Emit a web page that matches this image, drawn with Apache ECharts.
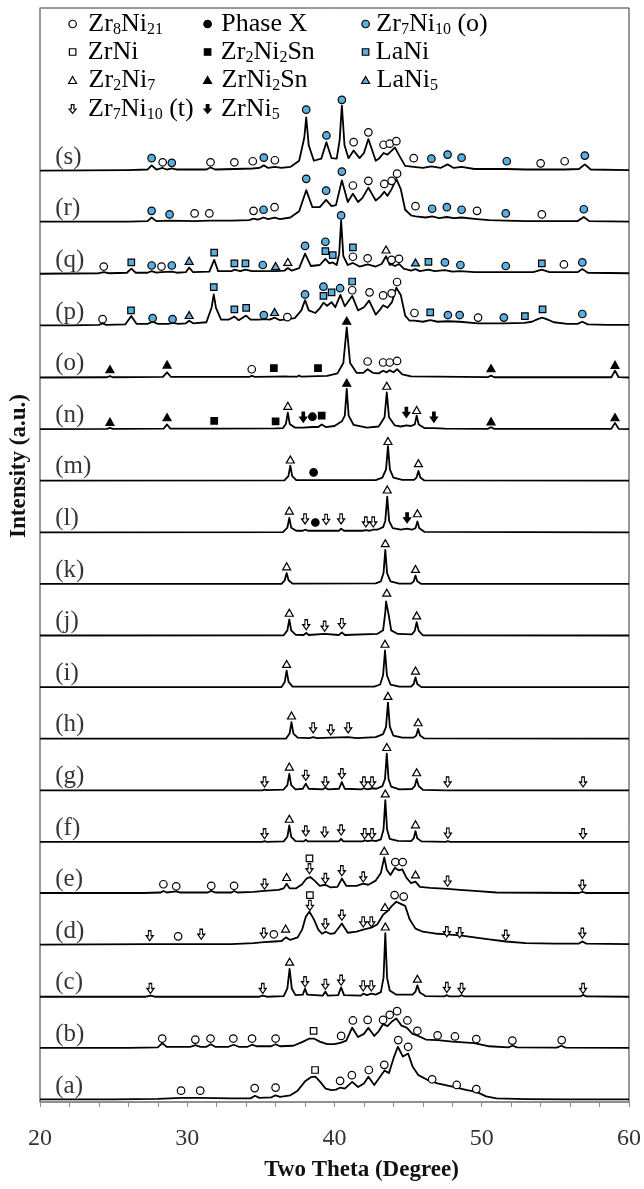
<!DOCTYPE html>
<html>
<head>
<meta charset="utf-8">
<script src="https://cdn.jsdelivr.net/npm/echarts@6/dist/echarts.min.js"></script>
<style>
html,body{margin:0;padding:0;background:#fff;}
#chart{width:644px;height:1189px;}
</style>
</head>
<body>
<div id="chart"></div>
<script>
// ---------- DATA ----------
const traceLabels = ['(a)','(b)','(c)','(d)','(e)','(f)','(g)','(h)','(i)','(j)','(k)','(l)','(m)','(n)','(o)','(p)','(q)','(r)','(s)'];
const xTicks = [20, 30, 40, 50, 60];

// each trace: [two-theta, intensity above its own baseline]
const traceA = [[20,0.1],[25,0.1],[28,0.2],[29.6,0.4],[30.9,0.4],[33,0.3],[34.3,0.3],[34.6,0.8],[34.9,0.4],[35.7,0.5],[36.0,0.9],[36.3,0.6],[37.0,0.9],[37.5,1.8],[38.0,3.6],[38.4,4.4],[38.7,4.5],[39.0,3.6],[39.4,2.2],[39.8,1.9],[40.1,2.0],[40.4,2.4],[40.7,2.2],[41.2,3.5],[41.6,2.5],[42.0,3.2],[42.3,4.5],[42.7,2.9],[43.1,4.5],[43.4,5.7],[43.7,5.2],[44.0,8.0],[44.3,10.3],[44.65,8.4],[45.0,9.0],[45.3,6.5],[45.7,4.8],[46.3,3.9],[47.0,3.2],[48.0,2.6],[49.0,1.9],[49.6,1.6],[50.3,0.7],[51.0,0.3],[53,0.15],[56,0.1],[60,0.1]];
const traceB = [[20,0.1],[26,0.1],[28.0,0.2],[28.3,1.0],[28.6,0.3],[30.2,0.3],[30.55,0.6],[30.9,0.3],[31.3,0.3],[31.6,0.8],[31.9,0.3],[32.8,0.3],[33.15,0.7],[33.5,0.3],[34.1,0.3],[34.4,0.7],[34.7,0.4],[35.7,0.4],[36.0,0.8],[36.3,0.4],[37.2,0.5],[37.8,1.2],[38.3,1.9],[38.6,1.9],[39.0,1.3],[39.5,0.8],[40.0,0.8],[40.45,1.1],[40.8,1.5],[41.2,4.0],[41.6,2.2],[42.0,2.8],[42.3,4.0],[42.7,2.4],[43.0,3.3],[43.3,4.7],[43.6,4.3],[43.9,5.2],[44.2,5.8],[44.55,4.4],[44.9,4.0],[45.3,2.8],[45.6,2.5],[46.2,1.7],[47.0,1.6],[48.0,1.3],[49.5,1.0],[50.5,0.4],[51.8,0.2],[52.1,0.5],[52.4,0.2],[55.1,0.15],[55.4,0.5],[55.7,0.15],[60,0.1]];
const traceC = [[20,0],[27.2,0],[27.5,0.2],[27.8,0],[34.9,0],[35.13,0.2],[35.4,0],[36.55,0.1],[36.8,1.6],[36.95,5.4],[37.1,1.6],[37.35,0.3],[37.85,0.4],[38.0,1.6],[38.15,0.4],[39.2,0.2],[39.38,1.0],[39.55,0.2],[40.25,0.3],[40.45,1.8],[40.65,0.3],[41.8,0.2],[41.95,0.6],[42.2,0.3],[42.5,0.6],[42.8,0.4],[43.15,0.9],[43.33,3.7],[43.45,12.3],[43.57,3.7],[43.75,1.2],[44.2,0.4],[45.3,0.4],[45.5,1.0],[45.63,2.2],[45.8,0.8],[46.2,0.1],[47.45,0.05],[47.63,0.3],[47.8,0.05],[48.45,0.05],[48.63,0.3],[48.8,0.05],[56.7,0.05],[56.88,0.35],[57.1,0.05],[60,0]];
const traceD = [[20,0.1],[27.45,0.2],[29.4,0.2],[31,0.2],[33,0.2],[34.5,0.4],[35.2,0.6],[35.9,0.7],[36.4,0.8],[36.7,1.5],[37.0,1.0],[37.5,1.5],[37.8,3.0],[38.05,5.5],[38.3,6.5],[38.6,5.0],[38.9,3.0],[39.15,2.2],[39.4,2.6],[39.7,2.2],[40.0,2.3],[40.5,4.2],[40.9,2.4],[41.5,2.6],[41.95,3.0],[42.5,3.4],[42.9,4.0],[43.3,5.9],[43.6,6.6],[43.9,7.6],[44.2,8.4],[44.5,8.0],[44.8,7.6],[45.1,5.0],[45.5,3.2],[46.0,2.6],[47.0,2.2],[47.63,2.1],[48.5,1.9],[49.5,1.5],[50.5,1.1],[51.63,0.7],[53,0.4],[55,0.3],[56.6,0.3],[56.83,0.7],[57.1,0.3],[60,0.2]];
const traceE = [[20,0.1],[27,0.1],[28.2,0.2],[28.38,0.5],[28.6,0.2],[29.25,0.4],[29.5,0.2],[31.4,0.2],[31.63,0.5],[31.9,0.2],[33.0,0.2],[33.18,0.5],[33.4,0.2],[34.5,0.3],[35.25,0.5],[36.2,0.7],[36.55,1.0],[36.75,1.9],[36.95,1.0],[37.4,1.0],[37.8,1.8],[38.1,2.9],[38.35,3.2],[38.65,2.5],[39.0,1.5],[39.38,1.7],[39.7,1.2],[40.2,1.3],[40.5,2.9],[40.8,1.5],[41.5,1.5],[41.95,1.9],[42.3,1.7],[42.8,2.5],[43.15,4.0],[43.38,7.0],[43.55,4.6],[43.8,3.6],[44.1,5.0],[44.35,4.5],[44.6,4.7],[44.9,3.0],[45.2,2.0],[45.5,2.3],[45.8,1.3],[46.5,1.1],[47.68,0.9],[48.5,0.7],[49.5,0.5],[51,0.2],[56.6,0.1],[56.83,0.3],[57.1,0.1],[60,0.1]];
const traceF = [[20,0],[35.1,0],[35.25,0.15],[35.4,0],[36.55,0.1],[36.8,1.0],[36.93,3.2],[37.06,1.0],[37.35,0.15],[37.9,0.1],[38.05,0.4],[38.2,0.1],[39.2,0.1],[39.33,0.3],[39.5,0.1],[40.3,0.1],[40.45,0.6],[40.6,0.1],[41.9,0.1],[42.05,0.3],[42.25,0.15],[42.55,0.3],[42.8,0.15],[43.15,0.5],[43.33,2.4],[43.45,8.1],[43.57,2.4],[43.75,0.6],[44.3,0.2],[45.2,0.15],[45.38,0.7],[45.5,2.1],[45.62,0.7],[45.9,0.1],[47.55,0],[47.7,0.15],[47.85,0],[56.75,0],[56.88,0.15],[57.0,0],[60,0]];
const traceG = [[20,0],[35.1,0],[35.25,0.15],[35.4,0.05],[36.55,0.15],[36.8,1.0],[36.93,3.2],[37.06,1.0],[37.35,0.2],[37.85,0.3],[38.05,1.3],[38.25,0.3],[39.2,0.2],[39.38,0.5],[39.55,0.2],[40.3,0.3],[40.5,1.6],[40.7,0.3],[41.85,0.2],[42.0,0.4],[42.25,0.2],[42.55,0.4],[42.85,0.3],[43.25,0.8],[43.43,2.2],[43.55,7.1],[43.67,2.2],[43.85,0.7],[44.4,0.2],[45.25,0.25],[45.45,0.8],[45.58,2.2],[45.72,0.8],[46.0,0.1],[47.55,0],[47.68,0.15],[47.8,0],[56.75,0],[56.88,0.15],[57.0,0],[60,0]];
const traceH = [[20,0],[36.7,0],[36.95,1.0],[37.08,3.2],[37.21,1.0],[37.5,0.2],[38.3,0.1],[38.55,0.3],[38.8,0.1],[39.75,0.2],[40.93,0.3],[41.5,0.1],[42.8,0.3],[43.3,0.9],[43.5,2.3],[43.63,7.0],[43.76,2.3],[44.0,0.6],[44.6,0.2],[45.35,0.2],[45.55,0.6],[45.68,1.9],[45.81,0.6],[46.1,0.05],[60,0]];
const traceI = [[20,0],[36.4,0],[36.62,1.0],[36.75,3.2],[36.88,1.0],[37.15,0.1],[42.7,0.1],[43.1,0.5],[43.3,2.3],[43.43,7.1],[43.56,2.3],[43.8,0.5],[44.4,0.1],[45.2,0.1],[45.38,0.6],[45.5,1.9],[45.62,0.6],[45.9,0],[60,0]];
const traceJ = [[20,0],[36.55,0.05],[36.8,1.0],[36.93,3.1],[37.06,1.0],[37.35,0.15],[37.9,0.1],[38.08,0.5],[38.25,0.1],[39.33,0.3],[40.3,0.1],[40.5,0.6],[40.7,0.1],[42.9,0.3],[43.3,1.0],[43.45,4.5],[43.5,6.6],[43.6,6.4],[43.68,4.0],[43.85,1.0],[44.3,0.3],[45.25,0.2],[45.45,0.9],[45.58,2.6],[45.72,0.9],[46.0,0.05],[60,0]];
const traceK = [[20,0],[36.4,0],[36.62,0.7],[36.75,2.1],[36.88,0.7],[37.15,0.05],[42.8,0.1],[43.15,0.5],[43.33,2.1],[43.45,6.6],[43.57,2.1],[43.8,0.5],[44.4,0.05],[45.2,0.05],[45.38,0.5],[45.5,1.6],[45.62,0.5],[45.9,0],[60,0]];
const traceL = [[20,0],[36.5,0.05],[36.8,0.9],[36.93,2.8],[37.06,0.9],[37.4,0.3],[37.85,0.3],[38.0,0.5],[38.2,0.3],[39.4,0.3],[40.3,0.3],[40.45,0.7],[40.65,0.3],[41.9,0.3],[42.13,0.4],[42.4,0.3],[42.63,0.5],[42.9,0.5],[43.3,1.0],[43.45,2.2],[43.58,6.9],[43.71,2.2],[43.95,0.8],[44.5,0.5],[44.93,0.7],[45.25,0.5],[45.5,0.8],[45.63,2.1],[45.76,0.8],[46.1,0.1],[60,0]];
const traceM = [[20,0],[36.6,0.05],[36.87,0.9],[37.0,2.9],[37.13,0.9],[37.4,0.1],[38.6,0.1],[42.8,0.1],[43.25,0.6],[43.5,2.2],[43.63,6.7],[43.76,2.2],[44.0,0.6],[44.6,0.15],[45.4,0.15],[45.57,0.6],[45.7,1.9],[45.83,0.6],[46.1,0.05],[60,0]];
const traceN = [[20,0],[24.55,0.05],[24.75,0.25],[24.95,0.05],[28.4,0.1],[28.63,0.9],[28.85,0.1],[31.83,0.1],[36.0,0.15],[36.5,0.2],[36.7,1.0],[36.83,3.2],[36.96,1.0],[37.3,0.3],[37.88,0.3],[38.5,0.4],[38.9,0.4],[39.13,0.9],[39.4,0.4],[40.0,0.6],[40.5,1.5],[40.7,2.6],[40.83,7.8],[40.96,2.6],[41.3,0.8],[42.2,0.3],[43.0,0.5],[43.4,2.3],[43.55,7.1],[43.7,2.3],[44.1,0.7],[44.5,0.5],[44.88,0.7],[45.2,0.6],[45.45,0.9],[45.58,2.6],[45.72,0.9],[46.1,0.2],[46.75,0.2],[47.5,0.1],[50.4,0.05],[50.63,0.35],[50.85,0.05],[58.8,0.05],[59.05,1.2],[59.3,0.05],[60,0]];
const traceO = [[20,0],[24.55,0.05],[24.75,0.25],[24.95,0.05],[28.35,0.1],[28.63,1.0],[28.9,0.1],[34.2,0.1],[34.38,0.3],[34.6,0.1],[35.88,0.15],[36.7,0.2],[36.8,0.4],[36.9,0.15],[37.45,0.15],[37.6,0.4],[37.75,0.15],[38.88,0.25],[39.5,0.3],[40.2,0.8],[40.6,2.8],[40.83,9.7],[41.06,2.8],[41.5,0.9],[41.95,0.9],[42.25,1.6],[42.6,0.9],[43.0,0.8],[43.3,1.3],[43.55,1.0],[43.75,1.4],[44.0,1.0],[44.25,1.6],[44.6,0.6],[45.2,0.2],[50.4,0.05],[50.63,0.35],[50.85,0.05],[58.8,0.05],[59.05,1.3],[59.3,0.05],[60,0]];
const traceP = [[20,0.1],[22,0.1],[24.0,0.2],[24.25,0.5],[24.5,0.2],[25.8,0.3],[26.2,1.9],[26.55,0.4],[27.3,0.4],[27.65,0.8],[28.0,0.4],[28.7,0.4],[29.0,0.6],[29.4,0.4],[29.9,0.5],[30.13,1.0],[30.4,0.5],[31.3,0.7],[31.65,3.5],[31.8,6.1],[31.95,3.5],[32.3,1.2],[32.8,1.2],[33.2,1.8],[33.5,1.1],[34.0,2.0],[34.3,1.2],[34.9,1.2],[35.2,1.3],[35.6,1.2],[35.93,1.6],[36.3,1.1],[36.8,1.3],[37.3,1.5],[37.75,3.0],[38.0,5.0],[38.25,3.0],[38.7,2.5],[39.0,3.4],[39.25,4.5],[39.5,3.9],[39.8,4.6],[40.05,3.6],[40.4,6.0],[40.7,3.8],[41.2,5.8],[41.6,3.0],[42.0,3.6],[42.35,4.9],[42.8,2.2],[43.05,3.0],[43.3,4.0],[43.6,3.5],[43.9,4.6],[44.2,7.4],[44.5,6.0],[44.8,2.0],[45.1,1.0],[45.43,1.0],[46.0,0.8],[46.5,1.1],[47.0,0.8],[47.7,0.9],[48.5,0.8],[49.75,0.5],[50.5,0.5],[51.5,0.5],[52.9,0.6],[53.4,0.8],[53.8,1.3],[54.1,1.6],[54.4,1.3],[54.9,0.7],[55.8,0.4],[56.5,0.4],[56.83,0.8],[57.2,0.3],[58.5,0.2],[60,0.2]];
const traceQ = [[20,0.1],[24.0,0.2],[24.33,0.4],[24.7,0.2],[25.9,0.3],[26.2,1.1],[26.5,0.3],[27.3,0.3],[27.58,0.6],[27.9,0.3],[28.25,0.4],[28.95,0.5],[29.3,0.3],[29.9,0.4],[30.13,1.3],[30.4,0.4],[31.5,0.5],[31.83,2.8],[32.1,0.6],[33.0,0.6],[33.2,0.9],[33.6,0.6],[33.95,0.9],[34.4,0.6],[35.13,0.6],[36.0,0.6],[36.6,0.7],[36.83,1.2],[37.1,0.7],[37.6,1.2],[38.0,4.0],[38.4,1.6],[39.0,1.8],[39.38,3.0],[39.65,2.1],[39.88,2.3],[40.15,1.8],[40.32,4.0],[40.45,10.4],[40.6,3.5],[40.9,1.8],[41.25,2.2],[41.7,1.5],[42.25,1.9],[42.8,1.5],[43.2,2.0],[43.5,3.5],[43.75,1.8],[43.9,1.9],[44.1,1.6],[44.38,2.0],[44.7,1.1],[45.2,0.7],[45.5,1.0],[45.8,0.6],[46.38,0.9],[46.8,0.6],[47.5,0.8],[48.0,0.5],[48.55,0.6],[49.5,0.4],[51.63,0.4],[53.5,0.4],[54.08,0.9],[54.6,0.4],[55.58,0.4],[56.5,0.4],[56.83,1.0],[57.2,0.3],[60,0.2]];
const traceR = [[20,0.2],[26,0.2],[27.3,0.3],[27.58,1.0],[27.9,0.3],[28.8,0.4],[30.5,0.3],[31.5,0.4],[33,0.4],[34.2,0.5],[34.5,0.8],[34.8,0.6],[35.18,1.0],[35.5,0.7],[35.93,1.0],[36.3,0.7],[37.0,1.0],[37.6,2.2],[38.08,6.3],[38.5,3.0],[39.0,3.0],[39.43,4.4],[39.8,3.2],[40.1,3.4],[40.5,8.2],[40.9,4.0],[41.25,5.6],[41.6,4.0],[41.9,4.8],[42.3,6.8],[42.8,4.3],[43.1,5.0],[43.38,6.0],[43.6,5.2],[43.88,6.5],[44.2,8.5],[44.5,6.5],[44.8,2.5],[45.2,1.4],[45.5,1.2],[46.2,1.0],[46.63,1.2],[47.1,0.9],[47.63,1.1],[48.1,0.9],[48.63,1.0],[49.68,0.7],[50.5,0.5],[51.63,0.4],[53,0.3],[54.08,0.3],[56.5,0.3],[56.93,1.1],[57.3,0.3],[60,0.2]];
const traceS = [[20,0.1],[26,0.2],[27.3,0.3],[27.58,1.1],[27.9,0.3],[28.33,0.6],[28.6,0.3],[28.95,0.5],[29.3,0.3],[31.3,0.3],[31.58,0.7],[31.9,0.3],[33.2,0.4],[34.45,0.5],[34.9,0.6],[35.2,1.1],[35.5,0.6],[35.95,0.8],[36.4,0.6],[37.0,0.8],[37.6,2.0],[37.95,6.5],[38.08,10.4],[38.25,5.0],[38.6,2.0],[39.1,2.4],[39.45,5.6],[39.8,2.5],[40.15,2.4],[40.35,6.0],[40.5,12.7],[40.68,5.0],[40.95,2.5],[41.3,4.0],[41.7,2.5],[42.0,3.5],[42.3,6.2],[42.8,2.0],[43.05,2.5],[43.33,3.5],[43.6,3.2],[43.9,4.0],[44.1,4.6],[44.4,3.0],[44.8,1.0],[45.38,0.8],[46.0,0.6],[46.58,0.9],[47.2,0.6],[47.68,1.3],[48.1,0.6],[48.63,0.8],[49.5,0.4],[51.7,0.4],[53,0.3],[54.0,0.3],[55.63,0.3],[56.6,0.4],[57.0,1.3],[57.4,0.3],[60,0.2]];

// phase markers: [trace letter, two-theta, height of marker above that trace's baseline]
const zr8ni21 = [['a',29.58,1.8],['a',30.88,1.8],['a',34.58,2.3],['a',36.0,2.4],['a',40.38,3.7],['a',41.18,4.8],['a',42.33,5.8],['a',43.38,6.8],['a',44.33,11.6],['a',45.0,10.3],['a',46.63,4.0],['a',48.3,2.9],['a',49.63,2.1],
 ['b',28.3,1.9],['b',30.55,1.7],['b',31.58,1.9],['b',33.13,1.9],['b',34.4,1.9],['b',36.0,1.9],['b',40.45,2.4],['b',41.25,5.4],['b',42.25,5.5],['b',43.3,5.5],['b',43.75,6.5],['b',44.25,7.2],['b',44.95,5.4],['b',45.63,3.4],['b',47.0,2.5],['b',48.18,2.3],['b',49.63,1.8],['b',52.08,1.5],['b',55.43,1.6],
 ['d',29.38,1.7],['d',35.88,2.1],['d',44.08,9.7],['d',44.7,9.4],
 ['e',28.38,1.8],['e',29.25,1.4],['e',31.63,1.5],['e',33.18,1.5],['e',44.13,6.1],['e',44.63,6.1],
 ['o',34.38,1.6],['o',42.25,3.1],['o',43.3,2.9],['o',43.75,2.9],['o',44.25,3.2],
 ['p',24.25,1.3],['p',36.8,1.7],['p',41.2,6.9],['p',42.38,6.5],['p',43.3,5.9],['p',43.88,6.3],['p',44.25,8.5],['p',45.43,2.5],['p',49.75,1.6],
 ['q',24.33,1.5],['q',28.25,1.5],['q',41.25,3.4],['q',42.25,3.1],['q',43.88,2.8],['q',44.38,3.0],['q',55.58,1.9],
 ['r',30.5,1.8],['r',31.5,1.8],['r',34.5,2.3],['r',35.93,3.0],['r',41.25,7.2],['r',42.3,8.1],['r',43.38,7.5],['r',43.88,8.1],['r',44.25,9.5],['r',45.5,3.2],['r',49.68,2.3],['r',54.08,1.6],
 ['s',28.33,1.7],['s',31.58,1.7],['s',33.2,1.7],['s',34.45,1.9],['s',35.95,2.1],['s',41.3,5.6],['s',42.3,7.5],['s',43.33,5.1],['s',43.75,5.3],['s',44.2,5.8],['s',45.38,2.5],['s',54.0,1.5],['s',55.63,1.9]];
const phaseX = [['l',38.7,1.9],['m',38.58,1.6],['n',38.5,2.4]];
const zr7ni10o = [['p',27.65,1.5],['p',29.0,1.3],['p',35.2,2.1],['p',38.0,6.1],['p',39.25,7.6],['p',40.38,7.3],['p',47.7,2.1],['p',48.5,2.1],['p',51.5,1.6],['p',56.83,2.3],
 ['q',27.58,1.7],['q',28.95,1.7],['q',35.13,1.8],['q',38.0,5.5],['q',39.38,6.3],['q',40.45,11.4],['q',47.5,2.3],['q',48.55,1.8],['q',51.63,1.6],['q',56.83,2.3],
 ['r',27.58,2.3],['r',28.8,1.6],['r',35.18,2.5],['r',38.08,8.5],['r',39.43,6.2],['r',40.5,9.9],['r',46.63,2.7],['r',47.63,3.0],['r',48.63,2.5],['r',51.63,1.8],['r',56.93,2.6],
 ['s',27.58,2.5],['s',28.95,1.6],['s',35.2,2.6],['s',38.08,11.9],['s',39.45,6.9],['s',40.5,13.8],['s',46.58,2.4],['s',47.68,3.2],['s',48.63,2.6],['s',51.7,1.9],['s',57.0,3.0]];
const zrni = [['a',38.68,5.8],['b',38.58,3.4],['d',38.33,9.7],['e',38.3,6.8]];
const zr2ni2sn = [['n',31.83,1.6],['n',36.0,1.5],['n',39.13,2.6],['o',35.88,1.8],['o',38.88,1.8]];
const lani = [['p',26.18,3.0],['p',31.8,7.5],['p',33.2,3.2],['p',34.0,3.5],['p',39.25,5.8],['p',39.8,6.5],['p',41.2,8.6],['p',46.5,2.6],['p',52.93,1.9],['p',54.13,3.2],
 ['q',26.2,2.3],['q',31.83,4.2],['q',33.2,2.1],['q',33.95,2.1],['q',39.38,4.5],['q',39.88,3.7],['q',41.25,5.2],['q',46.38,2.4],['q',54.08,2.1]];
const zr2ni7 = [['c',36.95,6.8],['c',43.45,13.6],['c',45.63,3.5],['d',36.68,3.2],['d',43.43,7.4],
 ['e',36.75,3.2],['e',43.38,8.3],['e',45.5,3.7],['f',36.93,4.5],['f',43.45,9.4],['f',45.5,3.4],
 ['g',36.93,4.6],['g',43.55,8.4],['g',45.58,3.5],['h',37.08,4.5],['h',43.63,8.3],['h',45.68,3.2],
 ['i',36.75,4.5],['i',43.43,8.4],['i',45.5,3.2],['j',36.93,4.4],['j',43.55,8.3],['j',45.58,3.9],
 ['k',36.75,3.4],['k',43.45,7.9],['k',45.5,2.9],['l',36.93,4.2],['l',43.58,8.3],['l',45.63,3.7],
 ['m',37.0,4.1],['m',43.63,7.7],['m',45.7,3.4],['n',36.83,4.5],['n',43.55,8.4],['n',45.58,3.7],
 ['q',36.83,2.4],['q',43.5,4.8]];
const zrni2sn = [['n',24.75,1.4],['n',28.63,2.3],['n',40.83,9.0],['n',50.63,1.5],['n',59.05,2.3],
 ['o',24.75,1.6],['o',28.63,2.5],['o',40.83,11.0],['o',50.63,1.8],['o',59.05,2.45]];
const lani5 = [['p',30.13,2.1],['p',35.93,2.7],['q',30.13,2.6],['q',36.0,1.6],['q',45.5,2.3]];
const zr7ni10t = [['c',27.5,1.6],['c',35.13,1.6],['c',38.0,2.9],['c',39.38,2.4],['c',40.45,3.2],['c',41.95,2.1],['c',42.5,2.1],['c',47.63,1.8],['c',48.63,1.6],['c',56.88,1.6],
 ['d',27.45,1.8],['d',30.95,2.1],['d',35.2,2.3],['d',38.33,7.7],['d',39.38,4.1],['d',40.5,5.8],['d',41.95,4.5],['d',42.5,4.5],['d',47.63,2.6],['d',48.5,2.4],['d',51.63,1.9],['d',56.83,2.3],
 ['e',35.25,1.8],['e',38.3,4.8],['e',39.38,2.9],['e',40.5,4.4],['e',41.95,3.2],['e',47.68,2.4],['e',56.83,1.6],
 ['f',35.25,1.6],['f',38.05,2.1],['f',39.33,1.9],['f',40.45,2.3],['f',42.05,1.6],['f',42.55,1.6],['f',47.7,1.7],['f',56.88,1.6],
 ['g',35.25,1.6],['g',38.05,2.9],['g',39.38,1.6],['g',40.5,3.2],['g',42.0,1.6],['g',42.55,1.6],['g',47.68,1.6],['g',56.88,1.6],
 ['h',38.55,2.1],['h',39.75,1.7],['h',40.93,2.1],
 ['j',38.08,2.1],['j',39.33,1.8],['j',40.5,2.3],
 ['l',38.0,2.6],['l',39.43,2.5],['l',40.45,2.6],['l',42.13,2.0],['l',42.63,2.0]];
const zrni5 = [['l',44.93,2.8],['n',37.88,2.3],['n',44.88,3.2],['n',46.75,2.3]];

// ---------- LAYOUT / STYLE ----------
const FONT = 'Liberation Serif';
const BASE0 = 0.4, STEP = 10, LABEL_H = 2.7, LABEL_X = 21.0;
const BLUE = '#5aaee0';
const letters = 'abcdefghijklmnopqrs'.split('');
const traces = [traceA,traceB,traceC,traceD,traceE,traceF,traceG,traceH,traceI,traceJ,traceK,traceL,traceM,traceN,traceO,traceP,traceQ,traceR,traceS];
const baseOf = l => BASE0 + STEP * letters.indexOf(l);

const ARROW = 'path://M2.5,0L5.5,0L5.5,5L8,5L4,10L0,5L2.5,5Z';
const phases = [
  {name:'Zr8Ni21', data:zr8ni21, symbol:'circle', size:7.5, fill:'#fff', rich:'{n|Zr}{s|8}{n|Ni}{s|21}', col:0, row:0},
  {name:'Phase X', data:phaseX, symbol:'circle', size:7.5, fill:'#000', rich:'{n|Phase X}', col:1, row:0},
  {name:'Zr7Ni10 (o)', data:zr7ni10o, symbol:'circle', size:7.5, fill:BLUE, rich:'{n|Zr}{s|7}{n|Ni}{s|10}{n| (o)}', col:2, row:0},
  {name:'ZrNi', data:zrni, symbol:'rect', size:6.5, fill:'#fff', rich:'{n|ZrNi}', col:0, row:1},
  {name:'Zr2Ni2Sn', data:zr2ni2sn, symbol:'rect', size:6.5, fill:'#000', rich:'{n|Zr}{s|2}{n|Ni}{s|2}{n|Sn}', col:1, row:1},
  {name:'LaNi', data:lani, symbol:'rect', size:6.5, fill:BLUE, rich:'{n|LaNi}', col:2, row:1},
  {name:'Zr2Ni7', data:zr2ni7, symbol:'triangle', size:[8,7], fill:'#fff', rich:'{n|Zr}{s|2}{n|Ni}{s|7}', col:0, row:2},
  {name:'ZrNi2Sn', data:zrni2sn, symbol:'triangle', size:[8,7], fill:'#000', rich:'{n|ZrNi}{s|2}{n|Sn}', col:1, row:2},
  {name:'LaNi5', data:lani5, symbol:'triangle', size:[8,7], fill:BLUE, rich:'{n|LaNi}{s|5}', col:2, row:2},
  {name:'Zr7Ni10 (t)', data:zr7ni10t, symbol:ARROW, size:[7,10], fill:'#fff', rich:'{n|Zr}{s|7}{n|Ni}{s|10}{n| (t)}', col:0, row:3},
  {name:'ZrNi5', data:zrni5, symbol:ARROW, size:[7,10], fill:'#000', rich:'{n|ZrNi}{s|5}', col:1, row:3}
];
const colMarker = [72, 207, 365];
const colPad = [7, 5, 2];
const rowCenter = [25, 53, 81, 110];

const rich = {
  n: {fontFamily: FONT, fontSize: 26, lineHeight: 28, color: '#000'},
  s: {fontFamily: FONT, fontSize: 16, lineHeight: 14, verticalAlign: 'bottom', color: '#000'}
};

const series = [];
traces.forEach((t, k) => {
  series.push({
    type: 'line', name: 'trace ' + traceLabels[k], silent: true, symbol: 'none', z: 2,
    lineStyle: {color: '#000', width: 1.8, join: 'round'},
    data: t.map(p => [p[0], p[1] + BASE0 + STEP * k])
  });
});
phases.forEach(ph => {
  series.push({
    type: 'scatter', name: ph.name, z: 4, symbol: ph.symbol, symbolSize: ph.size,
    itemStyle: {color: ph.fill, borderColor: '#000', borderWidth: 1.2, opacity: 1},
    data: ph.data.map(d => [d[1], baseOf(d[0]) + d[2]])
  });
});
series.push({
  type: 'scatter', name: 'labels', silent: true, symbolSize: 1, z: 5,
  itemStyle: {color: 'rgba(0,0,0,0)'},
  label: {show: true, position: 'right', distance: 0, formatter: p => p.data[2],
          fontFamily: FONT, fontSize: 25, color: '#000'},
  data: traceLabels.map((lab, k) => [LABEL_X, BASE0 + STEP * k + LABEL_H, lab])
});

const legends = phases.map(ph => {
  const w = Array.isArray(ph.size) ? ph.size[0] : ph.size;
  const h = Array.isArray(ph.size) ? ph.size[1] : ph.size;
  return {
    data: [ph.name], orient: 'horizontal', selectedMode: false,
    left: colMarker[ph.col] - w / 2, top: rowCenter[ph.row] - 14,
    itemWidth: w, itemHeight: h, padding: 0,
    itemStyle: {color: ph.fill, borderColor: '#000', borderWidth: 1.2},
    formatter: () => ph.rich,
    textStyle: {rich: rich, padding: [0, 0, 0, colPad[ph.col]]}
  };
});

const option = {
  animation: false,
  backgroundColor: '#fff',
  grid: {left: 38, right: 13, top: 8, bottom: 87, show: true, borderColor: '#333', borderWidth: 1},
  legend: legends,
  xAxis: {
    type: 'value', min: 20, max: 60, interval: 2,
    name: 'Two Theta (Degree)', nameLocation: 'middle', nameGap: 57,
    nameTextStyle: {fontFamily: FONT, fontSize: 23, fontWeight: 'bold', color: '#111', padding: [0, 0, 0, 54]},
    axisLine: {show: true, lineStyle: {color: '#8c8c8c', width: 1.5}},
    axisTick: {show: true, inside: false, length: 5, lineStyle: {color: '#8c8c8c'}},
    axisLabel: {fontFamily: FONT, fontSize: 24, color: '#333', margin: 25,
      formatter: v => (xTicks.indexOf(v) >= 0 ? String(v) : '')},
    splitLine: {show: false}
  },
  yAxis: {
    type: 'value', min: 0, max: 212,
    name: 'Intensity (a.u.)', nameLocation: 'middle', nameGap: 9,
    nameTextStyle: {fontFamily: FONT, fontSize: 23, fontWeight: 'bold', color: '#111', padding: [0, 0, 0, 178]},
    axisLine: {show: true, lineStyle: {color: '#9a9a9a', width: 1.5}},
    axisTick: {show: false}, axisLabel: {show: false}, splitLine: {show: false}
  },
  series: series
};

const chart = echarts.init(document.getElementById('chart'), null, {renderer: 'canvas'});
chart.setOption(option);
</script>
</body>
</html>
